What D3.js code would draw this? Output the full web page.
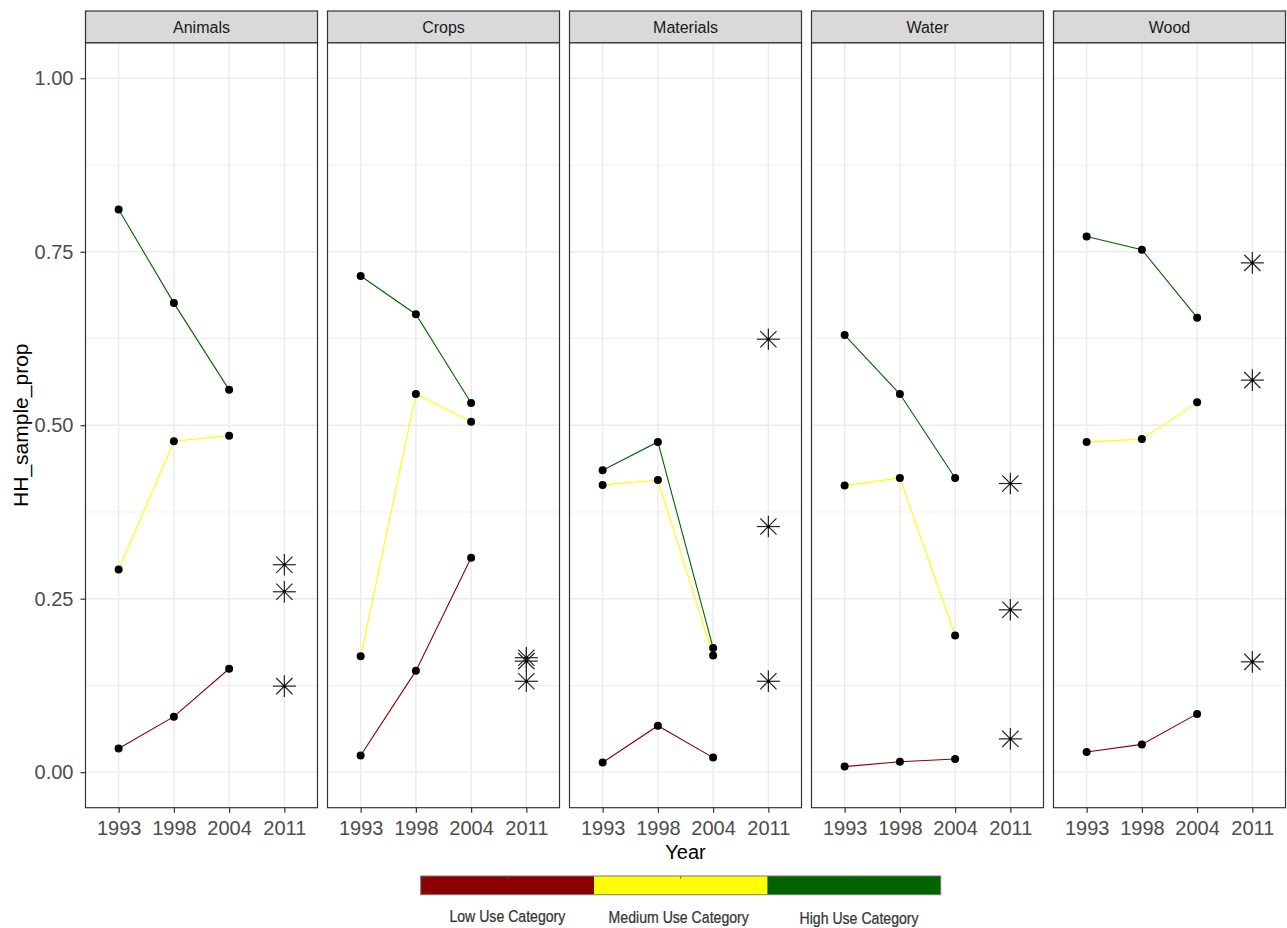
<!DOCTYPE html>
<html>
<head>
<meta charset="utf-8">
<script src="https://cdn.jsdelivr.net/npm/d3@7"></script>
<style>
  html, body { margin: 0; padding: 0; background: #fff; }
  svg { display: block; font-family: "Liberation Sans", Arial, sans-serif; }
</style>
</head>
<body>
<svg id="chart" width="1287" height="928"></svg>
<script>
// ---- data ----
const categories = ["Animals", "Crops", "Materials", "Water", "Wood"];
const years = ["1993", "1998", "2004", "2011"];
const lineYears = ["1993", "1998", "2004"];
const lowUse    = [[0.034, 0.080, 0.149], [0.024, 0.146, 0.309], [0.014, 0.067, 0.021], [0.008, 0.015, 0.019], [0.029, 0.040, 0.084]];
const mediumUse = [[0.292, 0.477, 0.485], [0.167, 0.545, 0.505], [0.414, 0.421, 0.168], [0.413, 0.424, 0.197], [0.476, 0.480, 0.533]];
const highUse   = [[0.811, 0.676, 0.551], [0.715, 0.660, 0.532], [0.435, 0.476, 0.179], [0.630, 0.545, 0.424], [0.772, 0.753, 0.655]];
const survey2011 = [[0.299, 0.260, 0.124], [0.165, 0.160, 0.131], [0.624, 0.354, 0.131], [0.416, 0.234, 0.048], [0.734, 0.565, 0.159]];
const yTicks = [0, 0.25, 0.5, 0.75, 1.0];
const yMinor = [0.125, 0.375, 0.625, 0.875];
const legendLabels = ["Low Use Category", "Medium Use Category", "High Use Category"];
const seriesColors = ["#8B0000", "#FFFF00", "#006400"];

// ---- layout ----
const svg = d3.select("#chart");
const panelTop = 42.7, panelBottom = 807.7;
const stripTop = 11;
const panelW = 232;
const panelLefts = d3.range(categories.length).map(i => 85.5 + i * 242);

const y = d3.scaleLinear().domain([-0.0512, 1.0513]).range([panelBottom, panelTop]);
// ggplot discrete expansion: 0.6 units each side
const x = d3.scalePoint().domain(years).range([0, panelW]).padding(0.6);

const series = [lowUse, mediumUse, highUse];

categories.forEach((cat, ci) => {
  const g = svg.append("g").attr("transform", `translate(${panelLefts[ci]},0)`);
  g.append("rect").attr("x", 0).attr("y", panelTop).attr("width", panelW).attr("height", panelBottom - panelTop).attr("fill", "#fff");
  // minor grid
  g.selectAll(".ymin").data(yMinor).enter().append("line")
    .attr("x1", 0).attr("x2", panelW).attr("y1", d => y(d)).attr("y2", d => y(d))
    .attr("stroke", "#ebebeb").attr("stroke-width", 0.8);
  // major grid
  g.selectAll(".ymaj").data(yTicks).enter().append("line")
    .attr("x1", 0).attr("x2", panelW).attr("y1", d => y(d)).attr("y2", d => y(d))
    .attr("stroke", "#ebebeb").attr("stroke-width", 1.4);
  g.selectAll(".xmaj").data(years).enter().append("line")
    .attr("x1", d => x(d)).attr("x2", d => x(d)).attr("y1", panelTop).attr("y2", panelBottom)
    .attr("stroke", "#ebebeb").attr("stroke-width", 1.4);

  // lines
  const line = d3.line().x((d, i) => x(lineYears[i])).y(d => y(d));
  series.forEach((s, si) => {
    g.append("path").datum(s[ci]).attr("d", line).attr("fill", "none")
      .attr("stroke", seriesColors[si]).attr("stroke-width", 1.1);
  });
  // points
  series.forEach((s, si) => {
    g.selectAll(null).data(s[ci]).enter().append("circle")
      .attr("cx", (d, i) => x(lineYears[i])).attr("cy", d => y(d)).attr("r", 4).attr("fill", "#000");
  });
  // 2011 asterisks
  const R = 11.5;
  survey2011[ci].forEach(v => {
    const cx = x("2011"), cy = y(v);
    const star = g.append("g").attr("transform", `translate(${cx},${cy})`);
    [0, 45, 90, 135].forEach(a => {
      const rad = a * Math.PI / 180;
      const r = a === 90 ? 10.8 : R;
      star.append("line")
        .attr("x1", -r * Math.cos(rad)).attr("y1", -r * Math.sin(rad))
        .attr("x2", r * Math.cos(rad)).attr("y2", r * Math.sin(rad))
        .attr("stroke", "#222").attr("stroke-width", 1.2);
    });
    star.append("circle").attr("r", 1.6).attr("fill", "#000");
  });

  // panel border
  g.append("rect").attr("x", 0).attr("y", panelTop).attr("width", panelW).attr("height", panelBottom - panelTop)
    .attr("fill", "none").attr("stroke", "#333").attr("stroke-width", 1.2);
  // strip
  g.append("rect").attr("x", 0).attr("y", stripTop).attr("width", panelW).attr("height", panelTop - stripTop)
    .attr("fill", "#d9d9d9").attr("stroke", "#333").attr("stroke-width", 1.2);
  g.append("text").attr("x", panelW / 2).attr("y", (stripTop + panelTop) / 2 + 1).attr("dy", "0.35em")
    .attr("text-anchor", "middle").attr("font-size", 16).attr("fill", "#1a1a1a").text(cat);

  // x axis
  const xa = g.append("g").attr("transform", `translate(0,${panelBottom})`)
    .call(d3.axisBottom(x).tickSize(5).tickPadding(5));
  xa.select(".domain").remove();
  xa.selectAll(".tick line").attr("stroke", "#333").attr("stroke-width", 1.2);
  xa.selectAll(".tick text").attr("font-size", 20).attr("fill", "#4d4d4d")
    .attr("font-family", "Liberation Sans, Arial, sans-serif").attr("dy", null).attr("y", 27);
});

// y axis
const ya = svg.append("g").attr("transform", `translate(${panelLefts[0]},0)`)
  .call(d3.axisLeft(y).tickValues(yTicks).tickFormat(d3.format(".2f")).tickSize(5).tickPadding(7));
ya.select(".domain").remove();
ya.selectAll(".tick line").attr("stroke", "#333").attr("stroke-width", 1.2);
ya.selectAll(".tick text").attr("font-size", 20).attr("fill", "#4d4d4d").attr("font-family", "Liberation Sans, Arial, sans-serif");

// axis titles
const centerX = (panelLefts[0] + panelLefts[categories.length - 1] + panelW) / 2;
svg.append("text").attr("x", centerX).attr("y", 859).attr("text-anchor", "middle")
  .attr("font-size", 20).attr("fill", "#000").text("Year");
svg.append("text").attr("transform", `translate(28,${(panelTop + panelBottom) / 2}) rotate(-90)`)
  .attr("text-anchor", "middle").attr("font-size", 21).attr("fill", "#000").text("HH_sample_prop");

// legend colour bar
const legX = d3.scaleBand().domain(legendLabels).range([420.7, 940.7]);
const leg = svg.append("g");
leg.selectAll("rect").data(legendLabels).enter().append("rect")
  .attr("x", d => legX(d)).attr("y", 876).attr("width", legX.bandwidth()).attr("height", 18.7)
  .attr("fill", (d, i) => seriesColors[i]);
leg.append("rect").attr("x", 420.7).attr("y", 876).attr("width", 520).attr("height", 18.7)
  .attr("fill", "none").attr("stroke", "#777").attr("stroke-width", 1);
leg.selectAll(".lt").data(legendLabels).enter().append("line")
  .attr("x1", d => legX(d) + legX.bandwidth() / 2).attr("x2", d => legX(d) + legX.bandwidth() / 2)
  .attr("y1", 876).attr("y2", 879).attr("stroke", "#555").attr("stroke-width", 0.8);
// condensed labels (Arial Narrow look): regular face squeezed horizontally
const labelBase = [922, 923, 924.3];
const labelShift = [0, -2, 5];
leg.selectAll(".ll").data(legendLabels).enter().append("text")
  .attr("transform", (d, i) => `translate(${legX(d) + legX.bandwidth() / 2 + labelShift[i]},${labelBase[i]}) scale(0.83,1)`)
  .attr("text-anchor", "middle").attr("font-size", 17)
  .attr("fill", "#333").attr("stroke", "#333").attr("stroke-width", 0.25)
  .attr("font-family", "Liberation Sans, Arial, sans-serif")
  .text(d => d);
</script>
</body>
</html>
